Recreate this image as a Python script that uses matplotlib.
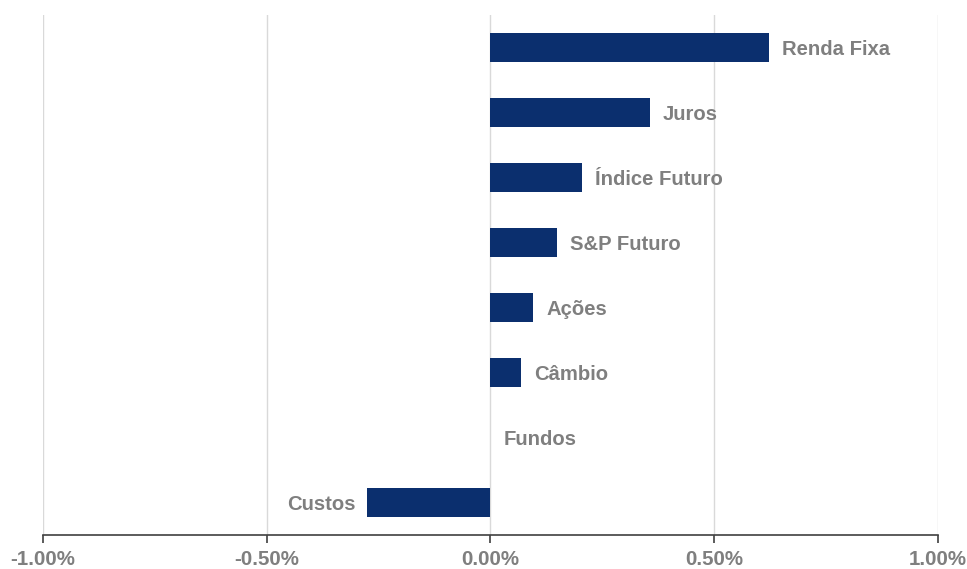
import matplotlib
matplotlib.use("Agg")
import matplotlib.pyplot as plt
from matplotlib.ticker import FuncFormatter
from matplotlib.transforms import offset_copy

categories = ["Renda Fixa", "Juros", "Índice Futuro", "S&P Futuro", "Ações", "Câmbio", "Fundos", "Custos"]
values = [0.622, 0.356, 0.204, 0.148, 0.096, 0.069, 0.0, -0.275]  # percent
xticks = [-1.0, -0.5, 0.0, 0.5, 1.0]

plt.rcParams['font.family'] = ['Liberation Sans', 'DejaVu Sans']

fig = plt.figure(figsize=(9.67, 5.69), dpi=100)
ax = fig.add_axes([0.0445, 0.0598, 0.9252, 0.9138])

n = len(categories)
ypos = [n - 1 - i for i in range(n)]
bar_color = '#0B2F6E'
text_color = '#7F7F7F'

ax.barh(ypos, values, height=0.45, color=bar_color, zorder=3)

for y, v, lab in zip(ypos, values, categories):
    if v >= 0:
        tr = offset_copy(ax.transData, fig=fig, x=13, y=-2, units='dots')
        ax.text(v, y, lab, transform=tr, ha='left', va='center',
                fontsize=14.6, fontweight='bold', color=text_color)
    else:
        tr = offset_copy(ax.transData, fig=fig, x=-12, y=-2, units='dots')
        ax.text(v, y, lab, transform=tr, ha='right', va='center',
                fontsize=14.6, fontweight='bold', color=text_color)

ax.set_xlim(-1.0, 1.0)
ax.set_ylim(-0.5, n - 0.5)
ax.set_xticks(xticks)
ax.xaxis.set_major_formatter(FuncFormatter(lambda x, p: f"{x:.2f}%"))
ax.set_yticks([])
ax.grid(axis='x', color='#D9D9D9', linewidth=1.0, zorder=0)

for s in ['top', 'right', 'left']:
    ax.spines[s].set_visible(False)
ax.spines['bottom'].set_color('#404040')
ax.spines['bottom'].set_linewidth(1.2)
ax.tick_params(axis='x', direction='out', length=6, width=1.2, color='#404040',
               labelsize=14.8, labelcolor=text_color, pad=5)
for t in ax.get_xticklabels():
    t.set_fontweight('bold')

fig.savefig("out.png", dpi=100)
